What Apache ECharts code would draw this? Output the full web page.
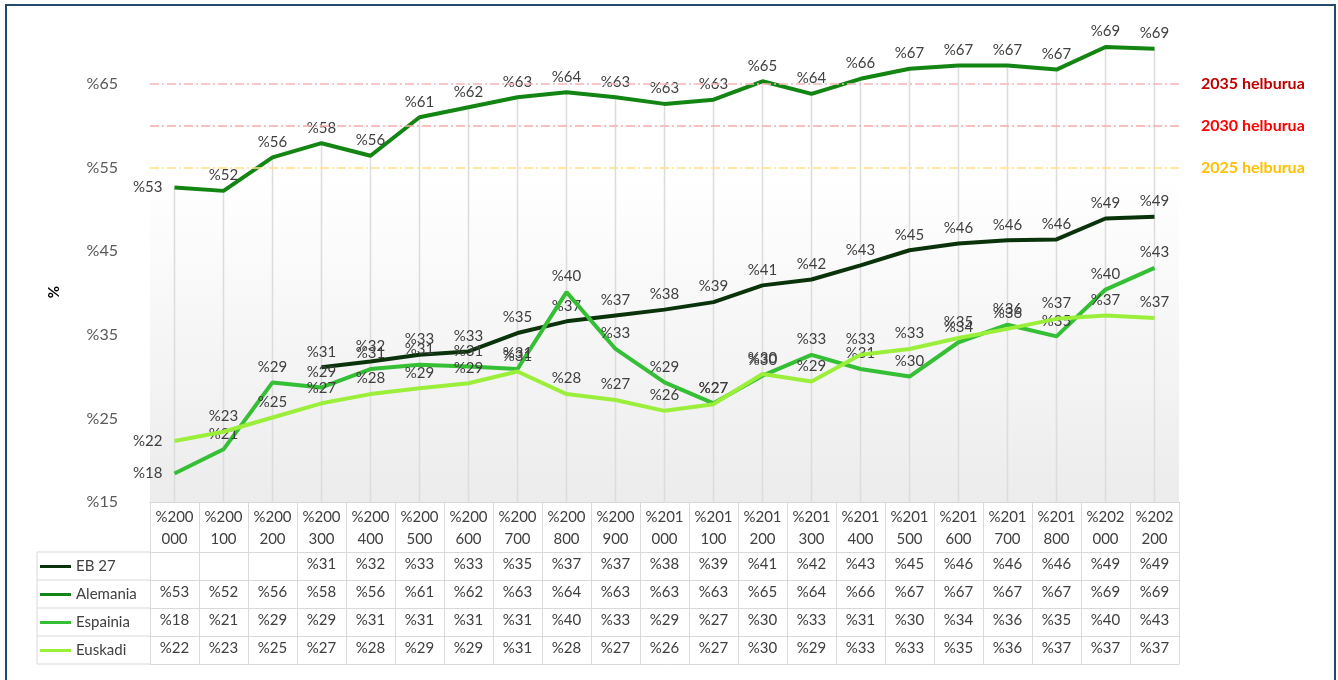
<!DOCTYPE html>
<html>
<head>
<meta charset="utf-8">
<script src="https://cdn.jsdelivr.net/npm/echarts@6/dist/echarts.min.js"></script>
<style>
    html, body { margin: 0; padding: 0; background: #fff; }
    #frame { position: absolute; left: 5px; top: 4px; width: 1331px; height: 700px; border: 2px solid #234a6e; box-sizing: border-box; }
    #main { position: absolute; left: 0; top: 0; width: 1338px; height: 680px; }
</style>
</head>
<body>
<div id="frame"></div>
<div id="main"></div>
<script>
// urteak (taulako goiburuan "%200 / 000" moduan agertzen dira)
var years = ['2000', '2001', '2002', '2003', '2004', '2005', '2006', '2007', '2008', '2009', '2010',
    '2011', '2012', '2013', '2014', '2015', '2016', '2017', '2018', '2020', '2022'];

var eb27 = [null, null, null, 31.1, 31.8, 32.6, 33.0, 35.2, 36.6, 37.3, 38.0,
    38.9, 40.9, 41.6, 43.3, 45.1, 45.9, 46.3, 46.4, 48.9, 49.1];
var alemania = [52.6, 52.2, 56.2, 57.9, 56.4, 61.0, 62.2, 63.4, 64.0, 63.4, 62.6,
    63.1, 65.3, 63.8, 65.6, 66.8, 67.2, 67.2, 66.7, 69.4, 69.2];
var espainia = [18.4, 21.3, 29.3, 28.7, 30.9, 31.4, 31.2, 30.9, 40.1, 33.3, 29.3,
    26.8, 30.1, 32.6, 30.9, 30.0, 34.1, 36.2, 34.8, 40.4, 43.0];
var euskadi = [22.3, 23.4, 25.1, 26.8, 27.9, 28.6, 29.2, 30.6, 27.9, 27.2, 25.9,
    26.7, 30.3, 29.4, 32.6, 33.3, 34.6, 35.7, 36.9, 37.3, 37.0];

var seriesNames = ['EB 27', 'Alemania', 'Espainia', 'Euskadi'];
var seriesColors = ['#0b330b', '#138513', '#35bf35', '#9bef3a'];

// helburuak
var targetValues = [65, 60, 55];
var targetNames = ['2035 helburua', '2030 helburua', '2025 helburua'];

var yMin = 15, yMax = 70, yStep = 10;

(function () {
    var myChart = echarts.init(document.getElementById('main'));
    var allValues = [eb27, alemania, espainia, euskadi];
    var font = 'Lato, "Open Sans", sans-serif';
    var gridColor = '#d9d9d9';

    function pct(v) {
        return (v === null || v === undefined) ? '' : '%' + Math.round(v);
    }

    // lehen puntuaren etiketa ezkerrean
    function mkData(arr) {
        return arr.map(function (v, i) {
            if (i === 0 && v !== null) {
                return { value: v, label: { position: 'left', distance: 12 } };
            }
            return v;
        });
    }

    var targetLine = [
        { line: '#f5b5b5', text: '#c00000', pad: [22, 0, 0, 0] },
        { line: '#f8a9a9', text: '#ff0000', pad: [8, 0, 0, 0] },
        { line: '#ffe08a', text: '#ffc000', pad: [0, 0, 6, 0] }
    ];

    var xAxes = [{
        type: 'category',
        data: years,
        position: 'bottom',
        boundaryGap: true,
        axisLine: { lineStyle: { color: gridColor, width: 1 } },
        axisTick: { show: true, length: 50, lineStyle: { color: gridColor } },
        axisLabel: {
            interval: 0,
            margin: 4,
            color: '#404040',
            fontFamily: font,
            fontSize: 15,
            lineHeight: 22,
            formatter: function (v) {
                return '%' + v.slice(0, 3) + '\n' + v.slice(3) + '00';
            }
        }
    }];
    // datu-taulako errenkadak
    allValues.forEach(function (arr, k) {
        xAxes.push({
            type: 'category',
            data: years,
            position: 'bottom',
            offset: 50 + 28 * k,
            axisLine: { lineStyle: { color: gridColor } },
            axisTick: { show: true, length: 28, lineStyle: { color: gridColor } },
            axisLabel: {
                interval: 0,
                margin: 5,
                color: '#404040',
                fontFamily: font,
                fontSize: 15,
                formatter: function (v, i) { return pct(arr[i]); }
            }
        });
    });
    xAxes.push({
        type: 'category',
        data: years,
        position: 'bottom',
        offset: 50 + 28 * 4,
        axisLine: { lineStyle: { color: gridColor } },
        axisTick: { show: false },
        axisLabel: { show: false }
    });

    var series = [{
        // goitik behera doazen lerroak
        type: 'bar',
        data: alemania,
        barWidth: 1.5,
        silent: true,
        z: 1,
        itemStyle: { color: '#dcdcdc' }
    }];
    allValues.forEach(function (arr, k) {
        series.push({
            name: seriesNames[k],
            type: 'line',
            data: mkData(arr),
            symbol: 'circle',
            symbolSize: 0,
            showSymbol: true,
            z: 3 + k,
            lineStyle: { width: 4, color: seriesColors[k] },
            itemStyle: { color: seriesColors[k] },
            label: {
                show: true,
                position: 'top',
                distance: 8,
                color: '#404040',
                fontFamily: font,
                fontSize: 15,
                formatter: function (p) { return pct(p.value); }
            }
        });
    });
    series[2].markLine = {
        silent: true,
        symbol: 'none',
        data: targetValues.map(function (t, i) {
            return {
                yAxis: t,
                lineStyle: { color: targetLine[i].line, width: 1.5, type: [9, 3, 2, 3] },
                label: {
                    show: true,
                    position: 'end',
                    distance: 22,
                    formatter: targetNames[i],
                    color: targetLine[i].text,
                    fontFamily: font,
                    fontWeight: 'bold',
                    fontSize: 16,
                    padding: targetLine[i].pad
                }
            };
        })
    };

    var rowLines = [];
    for (var r = 0; r < 5; r++) {
        rowLines.push({
            type: 'line',
            shape: { x1: 37, y1: 552 + 28 * r, x2: 150, y2: 552 + 28 * r },
            style: { stroke: gridColor, lineWidth: 1 }
        });
    }
    rowLines.push({
        type: 'line',
        shape: { x1: 37, y1: 552, x2: 37, y2: 664 },
        style: { stroke: gridColor, lineWidth: 1 }
    });

    var option = {
        animation: false,
        textStyle: { fontFamily: font },
        grid: {
            left: 150,
            right: 159,
            top: 42,
            bottom: 178,
            show: true,
            borderWidth: 0,
            outerBoundsMode: 'none',
            backgroundColor: {
                type: 'linear', x: 0, y: 0, x2: 0, y2: 1,
                colorStops: [{ offset: 0, color: '#ffffff' }, { offset: 0.3, color: '#ffffff' }, { offset: 1, color: '#ececec' }]
            }
        },
        legend: {
            data: seriesNames,
            orient: 'vertical',
            left: 40,
            top: 559,
            padding: 0,
            itemGap: 13,
            itemWidth: 31,
            itemHeight: 3,
            icon: 'rect',
            selectedMode: false,
            textStyle: { color: '#404040', fontFamily: font, fontSize: 15 }
        },
        xAxis: xAxes,
        yAxis: {
            type: 'value',
            min: yMin,
            max: yMax,
            interval: yStep,
            name: '%',
            nameLocation: 'middle',
            nameRotate: 90,
            nameGap: 88,
            nameTextStyle: { color: '#000', fontWeight: 'bold', fontSize: 15, padding: [0, 40, 0, 0] },
            axisLine: { show: false },
            axisTick: { show: false },
            splitLine: { show: false },
            axisLabel: {
                margin: 32,
                showMaxLabel: false,
                color: '#595959',
                fontFamily: font,
                fontSize: 16,
                formatter: function (v) { return '%' + v; }
            }
        },
        graphic: rowLines,
        series: series
    };

    myChart.setOption(option);
})();
</script>
</body>
</html>
